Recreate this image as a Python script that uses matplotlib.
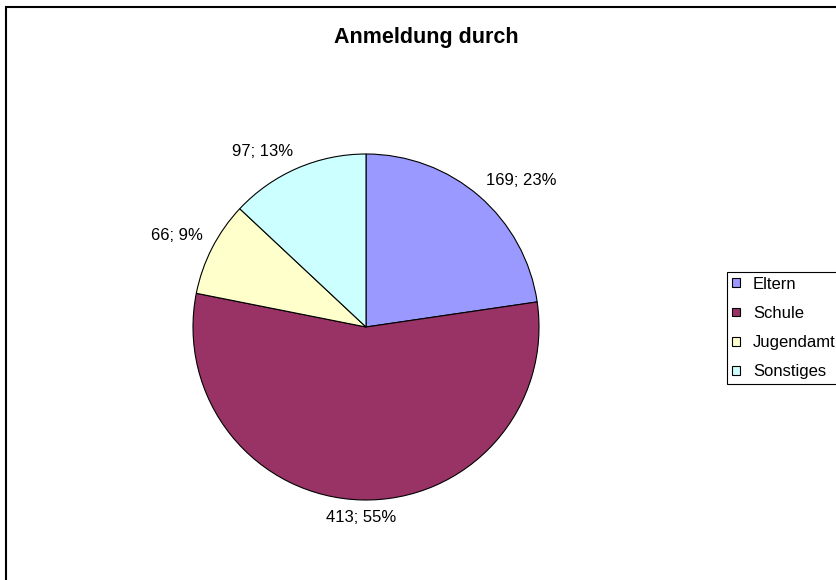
import numpy as np
import matplotlib.pyplot as plt
from matplotlib.patches import Rectangle

plt.rcParams["font.family"] = ["Liberation Sans", "DejaVu Sans"]

categories = ["Eltern", "Schule", "Jugendamt", "Sonstiges"]
counts = [169, 413, 66, 97]
colors = ["#9999FF", "#993366", "#FFFFCC", "#CCFFFF"]

W, H = 836, 580
fig = plt.figure(figsize=(W / 100, H / 100), dpi=100)

# pie centre (366, 327), radius 173 px
cx, cy, r = 366, 327, 173
ax = fig.add_axes([(cx - r) / W, (H - cy - r) / H, 2 * r / W, 2 * r / H])

wedges, _ = ax.pie(counts, colors=colors, startangle=90, counterclock=False,
                   radius=1, labels=[""] * len(counts),
                   wedgeprops=dict(edgecolor="black", linewidth=0.8))
ax.set_xlim(-1, 1)
ax.set_ylim(-1, 1)
ax.axis("off")

# data labels just outside the pie, anchored at the corner nearest the wedge
total = sum(counts)
for w, n in zip(wedges, counts):
    mid = np.deg2rad((w.theta1 + w.theta2) / 2)
    c, s = np.cos(mid), np.sin(mid)
    ha = "left" if c > 0.3 else ("right" if c < -0.3 else "center")
    va = "bottom" if s > 0.3 else ("top" if s < -0.3 else "center")
    pct = round(100 * n / total)
    ax.text(1.06 * c, 1.06 * s, f"{n}; {pct}%", ha=ha, va=va, fontsize=12,
            clip_on=False)

fig.text(426 / W, 1 - 38 / H, "Anmeldung durch", ha="center", va="center",
         fontsize=15.5, fontweight="bold")

leg = fig.legend(wedges, categories, loc="center left",
                 bbox_to_anchor=(727 / W, 1 - 328 / H), fontsize=12,
                 frameon=True, fancybox=False, edgecolor="black", framealpha=1,
                 handlelength=0.45, handleheight=0.45, handletextpad=0.8,
                 labelspacing=0.85, borderpad=0.3, borderaxespad=0)
leg.get_frame().set_linewidth(0.8)

# outer chart-area border (right/bottom fall outside the image)
fig.patches.append(Rectangle((6 / W, -0.1), 1.1, (H - 7) / H + 0.1,
                             transform=fig.transFigure, fill=False,
                             edgecolor="black", linewidth=1.5))

fig.savefig("out.png", dpi=100)
